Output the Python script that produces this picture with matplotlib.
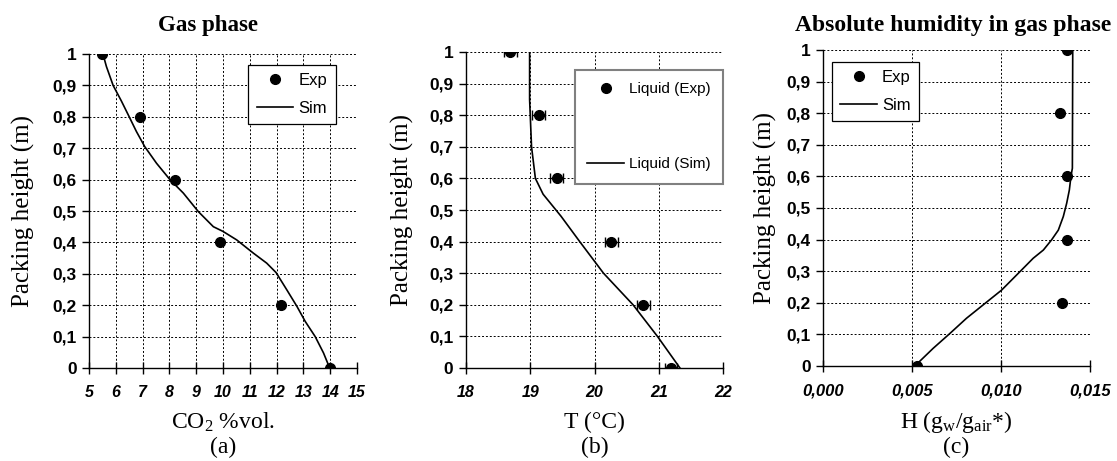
import matplotlib
matplotlib.use("Agg")
import matplotlib.pyplot as plt
from matplotlib.lines import Line2D

# ---------------- data ----------------
y_ticks = [0, 0.1, 0.2, 0.3, 0.4, 0.5, 0.6, 0.7, 0.8, 0.9, 1.0]
y_ticklabels = ["0", "0,1", "0,2", "0,3", "0,4", "0,5", "0,6", "0,7", "0,8", "0,9", "1"]

# (a) CO2 in gas phase
a_exp_x = [5.5, 6.9, 8.2, 9.9, 12.15, 14.0]
a_exp_y = [1.0, 0.8, 0.6, 0.4, 0.2, 0.0]
a_sim_x = [5.52, 5.65, 5.90, 6.21, 6.50, 6.77, 7.08, 7.52, 8.02, 8.52, 9.08, 9.64, 10.0,
           10.51, 11.13, 11.63, 11.98, 12.38, 12.76, 13.07, 13.44, 13.75, 13.98]
a_sim_y = [1.0, 0.96, 0.9, 0.85, 0.8, 0.753, 0.705, 0.652, 0.6, 0.557, 0.498, 0.45, 0.435,
           0.408, 0.366, 0.334, 0.304, 0.249, 0.196, 0.148, 0.1, 0.048, 0.0]
a_xticks = [5, 6, 7, 8, 9, 10, 11, 12, 13, 14, 15]

# (b) liquid temperature
b_exp_x = [18.69, 19.13, 19.41, 20.26, 20.76, 21.19]
b_exp_y = [1.0, 0.8, 0.6, 0.4, 0.2, 0.0]
b_exp_err = [0.1, 0.1, 0.1, 0.1, 0.1, 0.1]
b_sim_x = [18.99, 18.99, 19.0, 19.02, 19.05, 19.08, 19.2, 19.48, 19.77, 20.14, 20.6, 20.98, 21.33]
b_sim_y = [1.0, 0.85, 0.8, 0.7, 0.65, 0.6, 0.55, 0.48, 0.4, 0.3, 0.2, 0.1, 0.0]
b_xticks = [18, 19, 20, 21, 22]

# (c) absolute humidity
c_exp_x = [0.01369, 0.01331, 0.01373, 0.01369, 0.01341, 0.00529]
c_exp_y = [1.0, 0.8, 0.6, 0.4, 0.2, 0.0]
c_sim_x = [0.01403, 0.01401, 0.01393, 0.01384, 0.01369, 0.0135, 0.01322, 0.01284, 0.01238,
           0.01181, 0.01116, 0.01003, 0.0091, 0.00806, 0.00713, 0.00619, 0.00525]
c_sim_y = [1.0, 0.626, 0.6, 0.557, 0.515, 0.473, 0.43, 0.399, 0.367,
           0.341, 0.304, 0.24, 0.198, 0.151, 0.103, 0.056, 0.005]
c_xticks = [0.0, 0.005, 0.010, 0.015]
c_xticklabels = ["0,000", "0,005", "0,010", "0,015"]

# ---------------- style ----------------
SERIF = "Liberation Serif"
SANS = "Liberation Sans"
plt.rcParams["mathtext.fontset"] = "custom"
plt.rcParams["mathtext.rm"] = SERIF
plt.rcParams["mathtext.it"] = SERIF + ":italic"
plt.rcParams["mathtext.bf"] = SERIF + ":bold"

W, H = 1117, 461
fig = plt.figure(figsize=(W / 100, H / 100), dpi=100)


def fx(px):
    return px / W


def fy(py):
    return 1 - py / H


def make_ax(left, right, top, bottom):
    return fig.add_axes([left / W, 1 - bottom / H, (right - left) / W, (bottom - top) / H])


def style(ax, xticks, xlabels, xlim, xfs=11.5):
    ax.set_xlim(*xlim)
    ax.set_ylim(0, 1)
    for s in ["top", "right"]:
        ax.spines[s].set_visible(False)
    for s in ["left", "bottom"]:
        ax.spines[s].set_color("black")
        ax.spines[s].set_linewidth(1.0)
    ax.tick_params(axis="y", direction="out", length=5, color="black", width=1, pad=4)
    ax.tick_params(axis="x", direction="inout", length=9, color="black", width=1, pad=8)
    ax.set_xticks(xticks)
    ax.set_xticklabels(xlabels)
    ax.set_yticks(y_ticks)
    ax.set_yticklabels(y_ticklabels)
    for t in ax.get_xticklabels():
        t.set_fontfamily(SANS)
        t.set_fontweight("bold")
        t.set_fontstyle("italic")
        t.set_fontsize(xfs)
    for t in ax.get_yticklabels():
        t.set_fontfamily(SANS)
        t.set_fontweight("bold")
        t.set_fontsize(12.5)
    ax.grid(True, color="black", linestyle=(0, (2, 2)), linewidth=0.7)
    ax.set_axisbelow(True)
    ax.patch.set_alpha(0)


def labels(ax, xlabel, tag, ylab_x):
    bb = ax.get_position()
    cx = (bb.x0 + bb.x1) / 2
    fig.text(cx, fy(422), xlabel, ha="center", va="center", fontfamily=SERIF, fontsize=17)
    fig.text(cx, fy(447), tag, ha="center", va="center", fontfamily=SERIF, fontsize=17)
    fig.text(fx(ylab_x), (bb.y0 + bb.y1) / 2, "Packing height (m)", rotation=90,
             ha="center", va="center", fontfamily=SERIF, fontsize=18)


# (a)
ax1 = make_ax(89, 357, 54, 368)
ax1.plot(a_sim_x, a_sim_y, color="black", lw=1.2, zorder=3)
ax1.plot(a_exp_x, a_exp_y, "o", color="black", ms=7, zorder=4)
style(ax1, a_xticks, [str(v) for v in a_xticks], (5, 15))
labels(ax1, "CO$_2$ %vol.", "(a)", 23)
fig.text(fx(208), fy(25), "Gas phase", ha="center", va="center", fontfamily=SERIF,
         fontweight="bold", fontsize=16.5)
h_exp = Line2D([], [], marker="o", ls="none", color="black", ms=7)
h_sim = Line2D([], [], color="black", lw=1.2)
leg = ax1.legend([h_exp, h_sim], ["Exp", "Sim"], loc="upper right", bbox_to_anchor=(0.92, 0.965),
                 borderaxespad=0, prop={"family": SANS, "size": 12}, frameon=True, fancybox=False,
                 edgecolor="black", handlelength=2.2, handletextpad=0.3, borderpad=0.5,
                 labelspacing=0.75, framealpha=1)
leg.get_frame().set_linewidth(0.9)

# (b)
ax2 = make_ax(466, 723, 52, 368)
ax2.plot(b_sim_x, b_sim_y, color="black", lw=1.2, zorder=3)
ax2.errorbar(b_exp_x, b_exp_y, xerr=b_exp_err, fmt="o", color="black", ms=7,
             capsize=3.5, elinewidth=1, capthick=1, zorder=4)
style(ax2, b_xticks, [str(v) for v in b_xticks], (18, 22))
labels(ax2, "T (°C)", "(b)", 402)
leg = ax2.legend([h_exp, h_sim], ["Liquid (Exp)", "Liquid (Sim)"], loc="upper left",
                 bbox_to_anchor=((575 - 466) / 257, (368 - 70) / 316), borderaxespad=0,
                 prop={"family": SANS, "size": 11}, frameon=True, fancybox=False,
                 edgecolor="#808080", handlelength=2.4, handletextpad=0.35, borderpad=0.8,
                 labelspacing=4.0, framealpha=1)
leg.get_frame().set_linewidth(1.5)

# (c)
ax3 = make_ax(823, 1090, 50, 366)
ax3.plot(c_sim_x, c_sim_y, color="black", lw=1.2, zorder=3)
ax3.plot(c_exp_x, c_exp_y, "o", color="black", ms=7, zorder=4)
style(ax3, c_xticks, c_xticklabels, (0, 0.015), xfs=12)
labels(ax3, "H (g$_{\\mathregular{w}}$/g$_{\\mathregular{air}}$*)", "(c)", 765)
fig.text(fx(953), fy(25), "Absolute humidity in gas phase", ha="center", va="center",
         fontfamily=SERIF, fontweight="bold", fontsize=17)
leg = ax3.legend([h_exp, h_sim], ["Exp", "Sim"], loc="upper left",
                 bbox_to_anchor=((832 - 823) / 267, (366 - 62) / 316), borderaxespad=0,
                 prop={"family": SANS, "size": 12}, frameon=True, fancybox=False,
                 edgecolor="black", handlelength=2.2, handletextpad=0.3, borderpad=0.5,
                 labelspacing=0.75, framealpha=1)
leg.get_frame().set_linewidth(0.9)

fig.savefig("out.png", dpi=100)
